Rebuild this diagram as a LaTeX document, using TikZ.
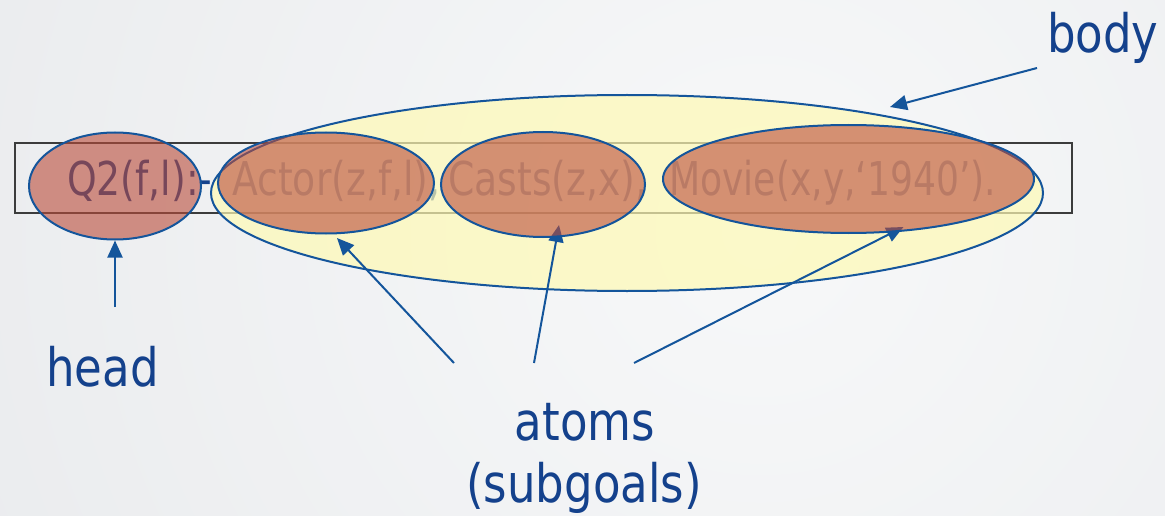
\documentclass[tikz,border=0pt]{standalone}
\usepackage{fontspec}
\setmainfont{DejaVu Sans}
\newfontfamily\lblfont[FakeStretch=0.85]{DejaVu Sans}
\newfontfamily\qfont[FakeStretch=0.81]{DejaVu Sans}
\newfontfamily\qfontn[FakeStretch=0.775]{DejaVu Sans}
\usetikzlibrary{shapes.geometric,arrows.meta,calc}
\definecolor{bgin}{RGB}{247,248,249}
\definecolor{bgout}{RGB}{226,228,231}
\definecolor{navy}{RGB}{20,65,140}
\definecolor{lineblue}{RGB}{20,85,155}
\definecolor{yel}{RGB}{254,250,181}
\definecolor{redfill}{RGB}{186,75,57}
\definecolor{boxgray}{RGB}{60,60,60}
\pgfdeclarelayer{back}
\pgfdeclarelayer{mid}
\pgfsetlayers{back,mid,main}
\begin{document}
\begin{tikzpicture}[x=1pt,y=-1pt,
  qtext/.style={font=\qfont\fontsize{46.6}{50}\selectfont, text=navy, anchor=base west, inner sep=0pt},
  qtextn/.style={qtext, font=\qfontn\fontsize{46.6}{50}\selectfont},
  lbl/.style={font=\lblfont\fontsize{53}{60}\selectfont, text=navy, inner sep=0pt},
  atom/.style={ellipse, draw=lineblue, line width=2pt, fill=redfill, fill opacity=0.6, draw opacity=1, inner sep=0pt},
  bodyell/.style={ellipse, draw=lineblue, line width=2pt, fill=yel, fill opacity=0.7, draw opacity=1, inner sep=0pt},
  ptr/.style={draw=lineblue, line width=2pt, -{Triangle[length=17pt,width=15pt]}}]
\useasboundingbox (0,0) rectangle (1165,516);
\begin{pgfonlayer}{back}
  \begin{scope}
    \clip (0,0) rectangle (1165,516);
    \fill[bgout] (0,0) rectangle (1165,516);
    \shade[inner color=bgin, outer color=bgout] (760,230) circle (1400);
  \end{scope}
  \node[draw=boxgray, line width=2pt, minimum width=1057pt, minimum height=70pt, inner sep=0pt] (box) at (543.5,178) {};
  \node[qtext] (q) at (67,196) {Q2(f,l):-};
  \node[qtext] (a) at (232,196) {Actor(z,f,l),};
  \node[qtext] (c) at (448,196) {Casts(z,x),};
  \node[qtextn] (m) at (669,196) {Movie(x,y,‘1940’).};
  \node[bodyell, minimum width=832pt, minimum height=196pt] (body) at (627,193) {};
\end{pgfonlayer}

\node[atom, minimum width=172pt, minimum height=107pt] (head) at (115,186) {};
\node[atom, minimum width=216pt, minimum height=101pt] (actor) at (326,183) {};
\node[atom, minimum width=204pt, minimum height=105pt] (casts) at (543,184.5) {};
\node[atom, minimum width=371pt, minimum height=108pt] (movie) at (848.5,179) {};

\node[lbl, anchor=base west] (bodylbl) at (1047,53) {body};
\node[lbl, anchor=base west] (headlbl) at (46,386) {head};
\node[lbl, anchor=base] (atoms) at (585,440) {atoms};
\node[lbl, anchor=base] (subg) at (584,502) {(subgoals)};

\coordinate (headtail) at (115,307);
\coordinate (bodytail) at (1037,68);
\coordinate (t1) at (454,363);
\coordinate (t2) at (534,363);
\coordinate (t3) at (634,363);

\begin{pgfonlayer}{mid}
  \draw[ptr] (headtail) -- (head.south);
  \draw[ptr] (bodytail) -- ($(body.center)+(263,-86)$);
  \draw[ptr] (t1) -- ($(actor.center)+(11,55)$);
  \draw[ptr] (t2) -- ($(casts.center)+(16,40.5)$);
  \draw[ptr] (t3) -- ($(movie.center)+(55,48)$);
\end{pgfonlayer}
\end{tikzpicture}
\end{document}
